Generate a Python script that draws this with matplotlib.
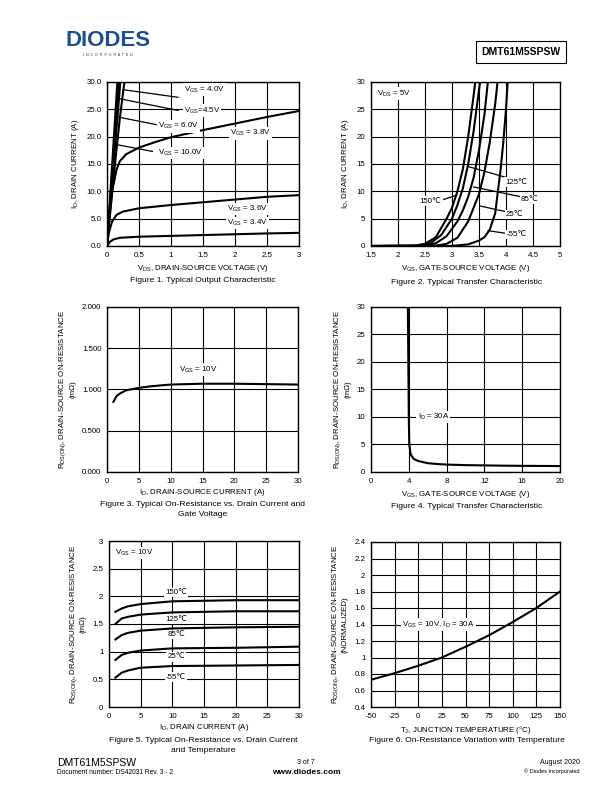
import matplotlib
matplotlib.use('Agg')
import matplotlib.pyplot as plt
from matplotlib.ticker import FuncFormatter, MultipleLocator

plt.rcParams['font.family'] = ['Liberation Sans', 'DejaVu Sans']
plt.rcParams['mathtext.fontset'] = 'custom'
plt.rcParams['mathtext.rm'] = 'Liberation Sans'
plt.rcParams['mathtext.it'] = 'Liberation Sans'

# ---- Figure 1: output characteristic (VDS, ID) ----
f1_vds_10 = [0, 0.1, 0.17]
f1_id_10 = [0, 18.5, 31.5]
f1_vds_6 = [0, 0.1, 0.19]
f1_id_6 = [0, 16.5, 31.5]
f1_vds_45 = [0, 0.1, 0.2, 0.22]
f1_id_45 = [0, 14.5, 28.8, 31.5]
f1_vds_40 = [0, 0.05, 0.1, 0.15, 0.2, 0.25, 0.29]
f1_id_40 = [0, 6, 12, 17.8, 23.3, 28, 31.5]
f1_vds_38 = [0, 0.03, 0.08, 0.15, 0.2, 0.3, 0.5, 0.75, 1.0, 1.5, 2.0, 2.5, 3.0]
f1_id_38 = [0, 5, 10, 14, 15.5, 16.8, 18.0, 19.0, 19.9, 21.2, 22.4, 23.6, 24.7]
f1_vds_36 = [0, 0.03, 0.08, 0.15, 0.25, 0.5, 1.0, 1.5, 2.0, 2.5, 3.0]
f1_id_36 = [0, 2.5, 4.5, 5.7, 6.3, 6.9, 7.5, 8.0, 8.5, 9.0, 9.3]
f1_vds_34 = [0, 0.05, 0.1, 0.2, 0.5, 1.0, 1.5, 2.0, 2.5, 3.0]
f1_id_34 = [0, 0.8, 1.2, 1.5, 1.7, 1.85, 2.0, 2.15, 2.3, 2.4]

# ---- Figure 2: transfer characteristic (VGS, ID) ----
f2_vgs_150 = [1.5, 2.3, 2.5, 2.7, 2.9, 3.0, 3.1, 3.2, 3.3, 3.4, 3.45]
f2_id_150 = [0, 0.05, 0.4, 1.6, 5, 7, 10, 14, 20, 27.5, 31.5]
f2_vgs_125 = [1.5, 2.4, 2.6, 2.8, 3.0, 3.1, 3.2, 3.3, 3.4, 3.5, 3.54]
f2_id_125 = [0, 0.05, 0.5, 2, 5, 7.5, 10.5, 15, 21, 28.5, 31.5]
f2_vgs_85 = [1.5, 2.5, 2.7, 2.9, 3.1, 3.2, 3.3, 3.4, 3.5, 3.6, 3.68]
f2_id_85 = [0, 0.05, 0.5, 1.8, 4.5, 6.5, 9, 12.5, 17.5, 24, 31.5]
f2_vgs_25 = [1.5, 2.7, 2.9, 3.1, 3.3, 3.4, 3.5, 3.6, 3.7, 3.8, 3.86]
f2_id_25 = [0, 0.05, 0.4, 1.5, 4.5, 7, 9.5, 13.5, 19, 26, 31.5]
f2_vgs_m55 = [1.5, 3.0, 3.3, 3.5, 3.6, 3.7, 3.8, 3.85, 3.9, 3.95, 4.0, 4.04]
f2_id_m55 = [0, 0.02, 0.3, 1, 1.6, 3, 6, 10, 14, 19, 25, 31.5]

# ---- Figure 3: RDS(ON) vs ID at VGS = 10V ----
f3_id = [1, 1.5, 2, 3, 5, 7, 10, 15, 20, 25, 30]
f3_r = [0.85, 0.92, 0.95, 0.99, 1.02, 1.04, 1.06, 1.07, 1.07, 1.065, 1.06]

# ---- Figure 4: RDS(ON) vs VGS at ID = 30A ----
f4_vgs = [3.9, 3.95, 4.0, 4.05, 4.2, 4.5, 5, 6, 7, 8, 10, 12, 14, 16, 20]
f4_r = [30, 20, 10, 5, 3.2, 2.4, 2.0, 1.6, 1.45, 1.35, 1.25, 1.2, 1.15, 1.12, 1.08]

# ---- Figure 5: RDS(ON) vs ID at temperatures ----
f5_id = [1, 2, 3, 5, 10, 20, 30]
f5_r_150 = [1.72, 1.78, 1.82, 1.86, 1.91, 1.93, 1.93]
f5_r_125 = [1.50, 1.60, 1.63, 1.67, 1.71, 1.73, 1.73]
f5_r_85 = [1.22, 1.30, 1.34, 1.38, 1.42, 1.44, 1.45]
f5_r_25 = [0.85, 0.94, 0.98, 1.02, 1.06, 1.07, 1.09]
f5_r_m55 = [0.53, 0.62, 0.66, 0.71, 0.74, 0.75, 0.76]

# ---- Figure 6: normalized RDS(ON) vs Tj ----
f6_tj = [-50, -25, 0, 25, 50, 75, 100, 125, 150]
f6_r = [0.73, 0.81, 0.90, 1.00, 1.13, 1.27, 1.43, 1.60, 1.80]

W, H = 612, 792
fig = plt.figure(figsize=(6.12, 7.92), dpi=100)
FS = 5.7
LW = 1.5


def add_ax(l, t, r, b):
    return fig.add_axes([l / W, 1 - b / H, (r - l) / W, (b - t) / H])


def style(ax, xlim, ylim, xstep, ystep, fmt_x='%g', fmt_y='%g'):
    ax.set_xlim(*xlim)
    ax.set_ylim(*ylim)
    ax.xaxis.set_major_locator(MultipleLocator(xstep))
    ax.yaxis.set_major_locator(MultipleLocator(ystep))
    ax.xaxis.set_major_formatter(FuncFormatter(lambda v, p: fmt_x % v))
    ax.yaxis.set_major_formatter(FuncFormatter(lambda v, p: fmt_y % v))
    ax.grid(True, color='black', lw=0.8)
    ax.tick_params(length=0, labelsize=FS, pad=4)
    for s in ax.spines.values():
        s.set_linewidth(1.0)
    ax.set_axisbelow(True)


def lab(ax, x, y, s, ha='center'):
    ax.text(x, y, s, fontsize=FS, ha=ha, va='center', zorder=4,
            bbox=dict(boxstyle='square,pad=0.15', fc='white', ec='none'))


def lead(ax, x0, y0, x1, y1):
    ax.plot([x0, x1], [y0, y1], color='black', lw=0.9, zorder=3)


def caption(x, y, s):
    fig.text(x / W, 1 - y / H, s, fontsize=6.1, ha='center', va='center')


# Figure 1
ax1 = add_ax(107, 82, 299, 246)
style(ax1, (0, 3), (0, 30), 0.5, 5, fmt_y='%.1f')
for xs, ys in [(f1_vds_10, f1_id_10), (f1_vds_6, f1_id_6), (f1_vds_45, f1_id_45),
               (f1_vds_40, f1_id_40), (f1_vds_38, f1_id_38), (f1_vds_36, f1_id_36),
               (f1_vds_34, f1_id_34)]:
    ax1.plot(xs, ys, color='black', lw=LW, zorder=2)
lead(ax1, 1.11, 27.2, 0.25, 28.6)
lead(ax1, 1.11, 24.8, 0.17, 27.0)
lead(ax1, 0.77, 22.2, 0.17, 23.6)
lead(ax1, 0.71, 17.3, 0.17, 18.5)
lab(ax1, 1.2, 28.6, r'V$_{GS}$ = 4.0V', ha='left')
lab(ax1, 1.2, 24.8, r'V$_{GS}$=4.5V', ha='left')
lab(ax1, 0.8, 21.9, r'V$_{GS}$ = 6.0V', ha='left')
lab(ax1, 0.8, 17.0, r'V$_{GS}$ = 10.0V', ha='left')
lab(ax1, 2.24, 20.6, r'V$_{GS}$ = 3.8V')
lab(ax1, 2.19, 6.8, r'V$_{GS}$ = 3.6V')
lab(ax1, 2.19, 4.2, r'V$_{GS}$ = 3.4V')
ax1.set_xlabel(r'V$_{DS}$, DRAIN-SOURCE VOLTAGE (V)', fontsize=FS, labelpad=3)
ax1.set_ylabel(r'I$_D$, DRAIN CURRENT (A)', fontsize=FS, labelpad=4)
caption(203, 281, 'Figure 1. Typical Output Characteristic')

# Figure 2
ax2 = add_ax(371, 82, 560, 246)
style(ax2, (1.5, 5), (0, 30), 0.5, 5)
for xs, ys in [(f2_vgs_150, f2_id_150), (f2_vgs_125, f2_id_125), (f2_vgs_85, f2_id_85),
               (f2_vgs_25, f2_id_25), (f2_vgs_m55, f2_id_m55)]:
    ax2.plot(xs, ys, color='black', lw=LW, zorder=2)
lead(ax2, 4.09, 12.3, 3.31, 14.5)
lead(ax2, 4.38, 8.8, 3.40, 10.8)
lead(ax2, 4.08, 6.1, 3.53, 7.3)
lead(ax2, 4.08, 2.2, 3.67, 2.8)
lead(ax2, 2.84, 8.5, 3.09, 9.3)
lab(ax2, 1.62, 27.9, r'V$_{DS}$ = 5V', ha='left')
lab(ax2, 4.19, 11.7, '125℃')
lab(ax2, 4.44, 8.5, '85℃')
lab(ax2, 4.16, 5.8, '25℃')
lab(ax2, 4.2, 2.1, '-55℃')
lab(ax2, 2.6, 8.2, '150℃')
ax2.set_xlabel(r'V$_{GS}$, GATE-SOURCE VOLTAGE (V)', fontsize=FS, labelpad=3)
ax2.set_ylabel(r'I$_D$, DRAIN CURRENT (A)', fontsize=FS, labelpad=4)
caption(467, 282, 'Figure 2. Typical Transfer Characteristic')

# Figure 3
ax3 = add_ax(107, 307, 298, 472)
style(ax3, (0, 30), (0, 2), 5, 0.5, fmt_y='%.3f')
ax3.plot(f3_id, f3_r, color='black', lw=LW, zorder=2)
lab(ax3, 14.3, 1.24, r'V$_{GS}$ = 10V')
ax3.set_xlabel(r'I$_D$, DRAIN-SOURCE CURRENT (A)', fontsize=FS, labelpad=2)
ax3.set_ylabel('R$_{DS(ON)}$, DRAIN-SOURCE ON-RESISTANCE\n(mΩ)', fontsize=FS, labelpad=4)
caption(203, 504, 'Figure 3. Typical On-Resistance vs. Drain Current and')
caption(203, 515, 'Gate Voltage')

# Figure 4
ax4 = add_ax(371, 307, 560, 472)
style(ax4, (0, 20), (0, 30), 4, 5)
ax4.plot(f4_vgs, f4_r, color='black', lw=LW, zorder=2)
lab(ax4, 6.6, 10, r'I$_D$ = 30A')
ax4.set_xlabel(r'V$_{GS}$, GATE-SOURCE VOLTAGE (V)', fontsize=FS, labelpad=3)
ax4.set_ylabel('R$_{DS(ON)}$, DRAIN-SOURCE ON-RESISTANCE\n(mΩ)', fontsize=FS, labelpad=4)
caption(467, 507, 'Figure 4. Typical Transfer Characteristic')

# Figure 5
ax5 = add_ax(109, 541, 299, 707)
style(ax5, (0, 30), (0, 3), 5, 0.5)
for ys in [f5_r_150, f5_r_125, f5_r_85, f5_r_25, f5_r_m55]:
    ax5.plot(f5_id, ys, color='black', lw=LW, zorder=2)
lab(ax5, 10.6, 2.07, '150℃')
lab(ax5, 10.6, 1.59, '125℃')
lab(ax5, 10.6, 1.31, '85℃')
lab(ax5, 10.6, 0.905, '25℃')
lab(ax5, 10.6, 0.54, '-55℃')
lab(ax5, 0.9, 2.78, r'V$_{GS}$ = 10V', ha='left')
ax5.set_xlabel(r'I$_D$, DRAIN CURRENT (A)', fontsize=FS, labelpad=2)
ax5.set_ylabel('R$_{DS(ON)}$, DRAIN-SOURCE ON-RESISTANCE\n(mΩ)', fontsize=FS, labelpad=4)
caption(203, 740, 'Figure 5. Typical On-Resistance vs. Drain Current')
caption(203, 751, 'and Temperature')

# Figure 6
ax6 = add_ax(371, 542, 560, 707)
style(ax6, (-50, 150), (0.4, 2.4), 25, 0.2)
ax6.plot(f6_tj, f6_r, color='black', lw=LW, zorder=2)
lab(ax6, 21.3, 1.4, r'V$_{GS}$ = 10V, I$_D$ = 30A')
ax6.set_xlabel('T$_J$, JUNCTION TEMPERATURE (°C)', fontsize=FS, labelpad=3)
ax6.set_ylabel('R$_{DS(ON)}$, DRAIN-SOURCE ON-RESISTANCE\n(NORMALIZED)', fontsize=FS, labelpad=4)
caption(467, 741, 'Figure 6. On-Resistance Variation with Temperature')

# Header
fig.text(108 / W, 1 - 41 / H, 'DIODES', fontsize=16, fontweight='heavy',
         color='#1d4f91', ha='center', va='center')
fig.text(108 / W, 1 - 55 / H, 'I  N  C  O  R  P  O  R  A  T  E  D', fontsize=2.6,
         color='#333333', ha='center', va='center')
fig.text(521 / W, 1 - 52 / H, 'DMT61M5SPSW', fontsize=7.5, fontweight='bold',
         ha='center', va='center',
         bbox=dict(boxstyle='square,pad=0.55', fc='white', ec='black', lw=0.8))

# Footer
fig.text(57 / W, 1 - 763 / H, 'DMT61M5SPSW', fontsize=7.5, ha='left', va='center')
fig.text(57 / W, 1 - 772 / H, 'Document number: DS42031 Rev. 3 - 2', fontsize=4.8,
         ha='left', va='center')
fig.text(306 / W, 1 - 763 / H, '3 of 7', fontsize=5, ha='center', va='center')
fig.text(306 / W, 1 - 772 / H, 'www.diodes.com', fontsize=6, fontweight='bold',
         ha='center', va='center')
fig.text(580 / W, 1 - 763 / H, 'August 2020', fontsize=5, ha='right', va='center')
fig.text(580 / W, 1 - 771 / H, '© Diodes Incorporated', fontsize=4, ha='right', va='center')

fig.savefig('out.png', dpi=100)
